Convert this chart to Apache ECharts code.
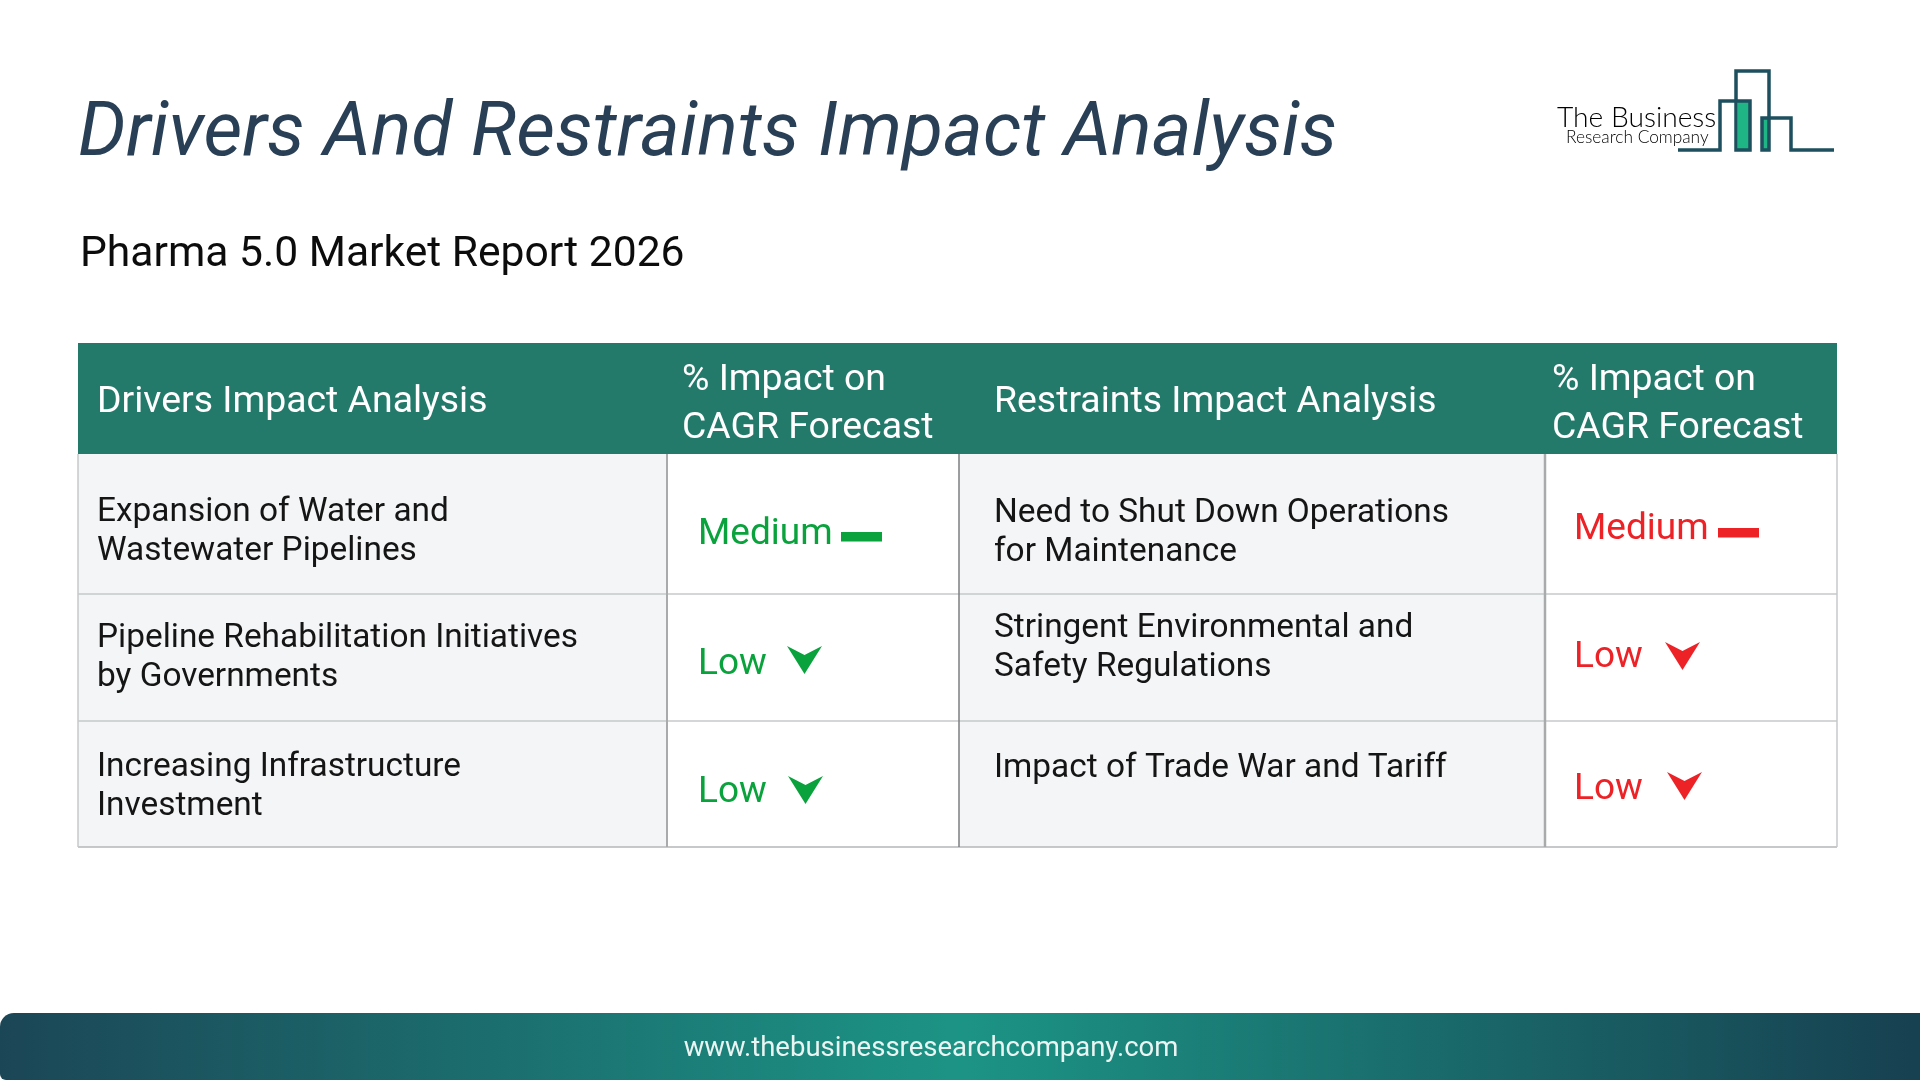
<!DOCTYPE html>
<html>
<head>
<meta charset="utf-8">
<title>Drivers And Restraints Impact Analysis</title>
<style>
html,body{margin:0;padding:0;background:#fff;}
#main{width:1920px;height:1080px;}
</style>
<script src="https://cdn.jsdelivr.net/npm/echarts@6/dist/echarts.min.js"></script>
</head>
<body>
<div id="main"></div>
<script>
var titleText = 'Drivers And Restraints Impact Analysis';
var subtitleText = 'Pharma 5.0 Market Report 2026';
var footerText = 'www.thebusinessresearchcompany.com';
var headers = ['Drivers Impact Analysis', '% Impact on\nCAGR Forecast', 'Restraints Impact Analysis', '% Impact on\nCAGR Forecast'];
var drivers = ['Expansion of Water and\nWastewater Pipelines', 'Pipeline Rehabilitation Initiatives\nby Governments', 'Increasing Infrastructure\nInvestment'];
var driverImpact = ['Medium', 'Low', 'Low'];
var restraints = ['Need to Shut Down Operations\nfor Maintenance', 'Stringent Environmental and\nSafety Regulations', 'Impact of Trade War and Tariff'];
var restraintImpact = ['Medium', 'Low', 'Low'];

var FONT = 'Roboto';
var GREEN = '#0aa23c';
var RED = '#ec2227';
var colX = [78, 667, 959, 1545, 1837];
var rowY = [343, 454, 594, 721, 847];
var els = [];

function txt(x, y, s, size, color, extra) {
    var style = {x: x, y: y, text: s, fontFamily: FONT, fontSize: size, fill: color, verticalAlign: 'middle', align: 'left'};
    for (var k in extra) style[k] = extra[k];
    els.push({type: 'text', z: 10, style: style});
}
function rect(x, y, w, h, fill, r) {
    els.push({type: 'rect', z: 1, shape: {x: x, y: y, width: w, height: h, r: r || 0}, style: {fill: fill}});
}
function line(x1, y1, x2, y2, color, w) {
    els.push({type: 'line', z: 5, shape: {x1: x1, y1: y1, x2: x2, y2: y2}, style: {stroke: color, lineWidth: w}});
}
function chevron(x, y, w, h, color) {
    els.push({type: 'polygon', z: 6, shape: {points: [[x, y], [x + w / 2, y + h * 0.32], [x + w, y], [x + w / 2, y + h]]}, style: {fill: color}});
}

// headline
txt(78, 136, titleText, 75.4, '#283f55', {fontStyle: 'italic', fontWeight: 400});
txt(80, 255, subtitleText, 42.6, '#0c0c0c');

// logo
txt(1557, 118, 'The Business', 28.2, '#000000', {fontFamily: 'Lato', fontWeight: 300});
txt(1566, 137, 'Research Company', 17.3, '#000000', {fontFamily: 'Lato', fontWeight: 300});
rect(1738, 102, 11, 47, '#1fb584');
rect(1763, 118, 6, 31, '#1fb584');
els.push({type: 'polyline', z: 5, shape: {points: [[1678, 150], [1720, 150], [1720, 101], [1750, 101], [1750, 150], [1736, 150], [1736, 71], [1769, 71], [1769, 150], [1762, 150], [1762, 118], [1791, 118], [1791, 150], [1834, 150]]}, style: {stroke: '#1d4f5e', lineWidth: 3.5, fill: null}});

// table fills
rect(colX[0], rowY[1], colX[1] - colX[0], rowY[4] - rowY[1], '#f3f5f7');
rect(colX[2], rowY[1], colX[3] - colX[2], rowY[4] - rowY[1], '#f3f5f7');
rect(colX[0], rowY[0], colX[4] - colX[0], rowY[1] - rowY[0], '#247a6a');

// table borders
line(colX[0], rowY[2], colX[4], rowY[2], '#c6c8ca', 1.5);
line(colX[0], rowY[3], colX[4], rowY[3], '#c6c8ca', 1.5);
line(colX[0], rowY[4], colX[4], rowY[4], '#b4b6b8', 1.5);
line(colX[0], rowY[1], colX[0], rowY[4], '#c6c8ca', 1.5);
line(colX[1], rowY[1], colX[1], rowY[4], '#a8aaac', 2);
line(colX[2], rowY[1], colX[2], rowY[4], '#7c7e80', 1.5);
line(colX[3], rowY[1], colX[3], rowY[4], '#a8aaac', 2.5);
line(colX[4], rowY[1], colX[4], rowY[4], '#c6c8ca', 1.5);

// header text
var headX = [97, 682, 994, 1552];
var headY = [403, 381, 403, 381];
headers.forEach(function (h, i) {
    var parts = h.split('\n');
    txt(headX[i], headY[i], parts[0], 37.4, '#ffffff');
    if (parts[1]) txt(headX[i], headY[i] + 48, parts[1], 37.4, '#ffffff');
});

// name cells
var driverY = [513, 639, 768];
var restraintY = [514, 629, 769];
function names(list, x, ys) {
    list.forEach(function (n, i) {
        n.split('\n').forEach(function (p, j) {
            txt(x, ys[i] + j * 39, p, 33.4, '#151515');
        });
    });
}
names(drivers, 97, driverY);
names(restraints, 994, restraintY);

// impact cells
function impact(list, x, ys, color, dashX, dashY, chevX, chevY) {
    list.forEach(function (v, i) {
        txt(x, ys[i], v, 37, color);
        if (v === 'Medium') rect(dashX, dashY, 41, 9.5, color);
        else chevron(chevX[i], chevY[i], 35, 28, color);
    });
}
impact(driverImpact, 698, [535, 665, 793], GREEN, 841, 532, [0, 787, 788], [0, 646, 776]);
impact(restraintImpact, 1574, [530, 658, 790], RED, 1718, 528, [0, 1665, 1667], [0, 642, 772]);

// footer band
els.push({
    type: 'rect', z: 1,
    shape: {x: 0, y: 1013, width: 1920, height: 67, r: [14, 0, 0, 6]},
    style: {fill: new echarts.graphic.LinearGradient(0, 0, 1, 0, [
        {offset: 0, color: '#1b4656'},
        {offset: 0.5, color: '#1c9485'},
        {offset: 1, color: '#174050'}
    ])}
});
txt(931, 1049, footerText, 27.5, '#eaf5f3', {align: 'center'});

var myChart = echarts.init(document.getElementById('main'));
myChart.setOption({
    backgroundColor: '#ffffff',
    animation: false,
    graphic: {elements: els}
});
</script>
</body>
</html>
